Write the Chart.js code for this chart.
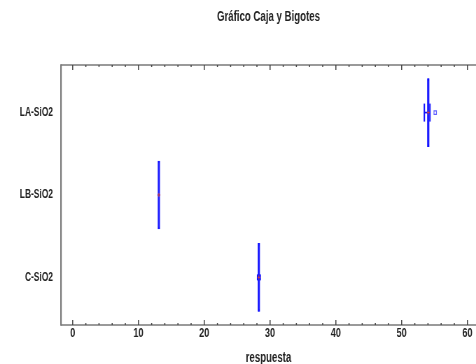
<!DOCTYPE html>
<html>
<head>
<meta charset="utf-8">
<script src="https://cdn.jsdelivr.net/npm/chart.js@4.4.1/dist/chart.umd.min.js"></script>
<style>
  html, body { margin: 0; padding: 0; background: #fff; overflow: hidden; }
  /* el original esta comprimido a lo ancho: se dibuja a 680 y se muestra a 476 */
  #caja { display: block; width: 476px; height: 364px; }
</style>
</head>
<body>
<canvas id="caja" width="680" height="364" style="width:476px;height:364px"></canvas>
<script>
// datos (posicion 1 = abajo)
var grupos = ['C-SiO2', 'LB-SiO2', 'LA-SiO2'];
var posiciones = [1, 2, 3];
var q1 = [28.15, 12.95, 53.9];
var q3 = [28.45, 13.25, 54.2];
var mediana = [28.3, 13.1, 54.05];
var media = [28.3, 13.1, 54.05];
var bigote_min = [28.1, 12.95, 53.45];
var bigote_max = [28.5, 13.25, 54.3];
var atipicos_x = [55.1];
var atipicos_y = [3];
var ticks_x = [0, 10, 20, 30, 40, 50, 60];

var azul = '#1010ff';
var fuente = "'Liberation Sans', Arial, sans-serif";

var cajas = [], bigotes = [], topes = [], medianas = [], medias = [], atipicos = [];
for (var i = 0; i < grupos.length; i++) {
    cajas.push({ y: posiciones[i], x: [q1[i], q3[i]] });
    bigotes.push({ y: posiciones[i], x: [bigote_min[i], bigote_max[i]] });
    topes.push({ x: bigote_min[i], y: posiciones[i] });
    topes.push({ x: bigote_max[i], y: posiciones[i] });
    medianas.push({ x: mediana[i], y: posiciones[i] });
    medias.push({ x: media[i], y: posiciones[i] });
}
for (var j = 0; j < atipicos_x.length; j++) {
    atipicos.push({ x: atipicos_x[j], y: atipicos_y[j] });
}

// marco gris y marcas hacia adentro
var marco = {
    id: 'marco',
    afterDraw: function (chart) {
        var ctx = chart.ctx;
        var a = chart.chartArea;
        var sx = chart.scales.x;
        ctx.save();
        ctx.strokeStyle = '#7a7a7a';
        ctx.lineWidth = 1.5;
        ctx.beginPath();
        ctx.moveTo(a.right + 5, a.top);
        ctx.lineTo(a.left, a.top);
        ctx.moveTo(a.left, a.bottom);
        ctx.lineTo(a.right + 5, a.bottom);
        ctx.stroke();
        ctx.lineWidth = 2.2;
        ctx.beginPath();
        ctx.moveTo(a.left, a.top - 0.7);
        ctx.lineTo(a.left, a.bottom + 0.7);
        ctx.stroke();
        ctx.strokeStyle = '#444';
        ctx.lineWidth = 1.5;
        for (var v = 0; v <= 60; v += 2) {
            var px = sx.getPixelForValue(v);
            var largo = (v % 10 == 0) ? 5 : 2;
            ctx.beginPath();
            ctx.moveTo(px, a.bottom);
            ctx.lineTo(px, a.bottom - largo);
            ctx.moveTo(px, a.top);
            ctx.lineTo(px, a.top + largo);
            ctx.stroke();
        }
        ctx.restore();
    }
};

var ctx = document.getElementById('caja');
var grafico = new Chart(ctx, {
    type: 'bar',
    data: {
        datasets: [
            {
                type: 'bar',
                indexAxis: 'y',
                data: bigotes,
                backgroundColor: azul,
                borderWidth: 0,
                barThickness: 1,
                grouped: false,
                order: 3
            },
            {
                type: 'bar',
                indexAxis: 'y',
                data: cajas,
                backgroundColor: 'rgba(40,40,255,0.85)',
                borderColor: azul,
                borderWidth: 2,
                borderSkipped: false,
                barThickness: 68,
                grouped: false,
                order: 2
            },
            {
                type: 'scatter',
                data: topes,
                pointStyle: 'line',
                rotation: 90,
                radius: [3, 3, 0, 0, 9, 9],
                borderColor: azul,
                borderWidth: 2,
                order: 1
            },
            {
                type: 'scatter',
                data: medianas,
                pointStyle: 'line',
                rotation: 90,
                radius: 34,
                borderColor: azul,
                borderWidth: 1.5,
                order: 1
            },
            {
                type: 'scatter',
                data: medias,
                pointStyle: 'cross',
                radius: 2,
                borderColor: '#d04040',
                borderWidth: 1,
                order: 0
            },
            {
                type: 'scatter',
                data: atipicos,
                pointStyle: 'rect',
                radius: 2.5,
                backgroundColor: '#fff',
                borderColor: '#6060ff',
                borderWidth: 1.2,
                order: 0
            }
        ]
    },
    options: {
        responsive: false,
        animation: false,
        layout: { padding: 0, autoPadding: false },
        plugins: {
            legend: { display: false },
            tooltip: { enabled: false },
            title: {
                display: true,
                fullSize: false,
                text: 'Gráfico Caja y Bigotes',
                color: '#222',
                font: { family: fuente, size: 13.8, weight: 'bold', lineHeight: 1.2 },
                padding: { top: 9.2, bottom: 39.2 }
            }
        },
        scales: {
            x: {
                type: 'linear',
                offset: false,
                min: -1.78,
                max: 61.3,
                grid: { display: false, drawTicks: false },
                border: { display: false },
                afterFit: function (scale) { scale.height = 39; },
                afterBuildTicks: function (scale) {
                    scale.ticks = ticks_x.map(function (v) { return { value: v }; });
                },
                ticks: {
                    padding: 1,
                    color: '#222',
                    maxRotation: 0,
                    autoSkip: false,
                    font: { family: fuente, size: 13, weight: 'bold' }
                },
                title: {
                    display: true,
                    text: 'respuesta',
                    color: '#222',
                    font: { family: fuente, size: 13.8, weight: 'bold', lineHeight: 1 },
                    padding: { top: 0, bottom: -1 }
                }
            },
            y: {
                type: 'linear',
                offset: false,
                min: 0.422,
                max: 3.578,
                grid: { display: false, drawTicks: false },
                border: { display: false },
                afterFit: function (scale) { scale.width = 87.1; },
                afterBuildTicks: function (scale) {
                    scale.ticks = posiciones.map(function (v) { return { value: v }; });
                },
                ticks: {
                    padding: 11.4,
                    color: '#222',
                    font: { family: fuente, size: 12, weight: 'bold' },
                    callback: function (valor) {
                        return grupos[posiciones.indexOf(valor)];
                    }
                }
            }
        }
    },
    plugins: [marco]
});
</script>
</body>
</html>
